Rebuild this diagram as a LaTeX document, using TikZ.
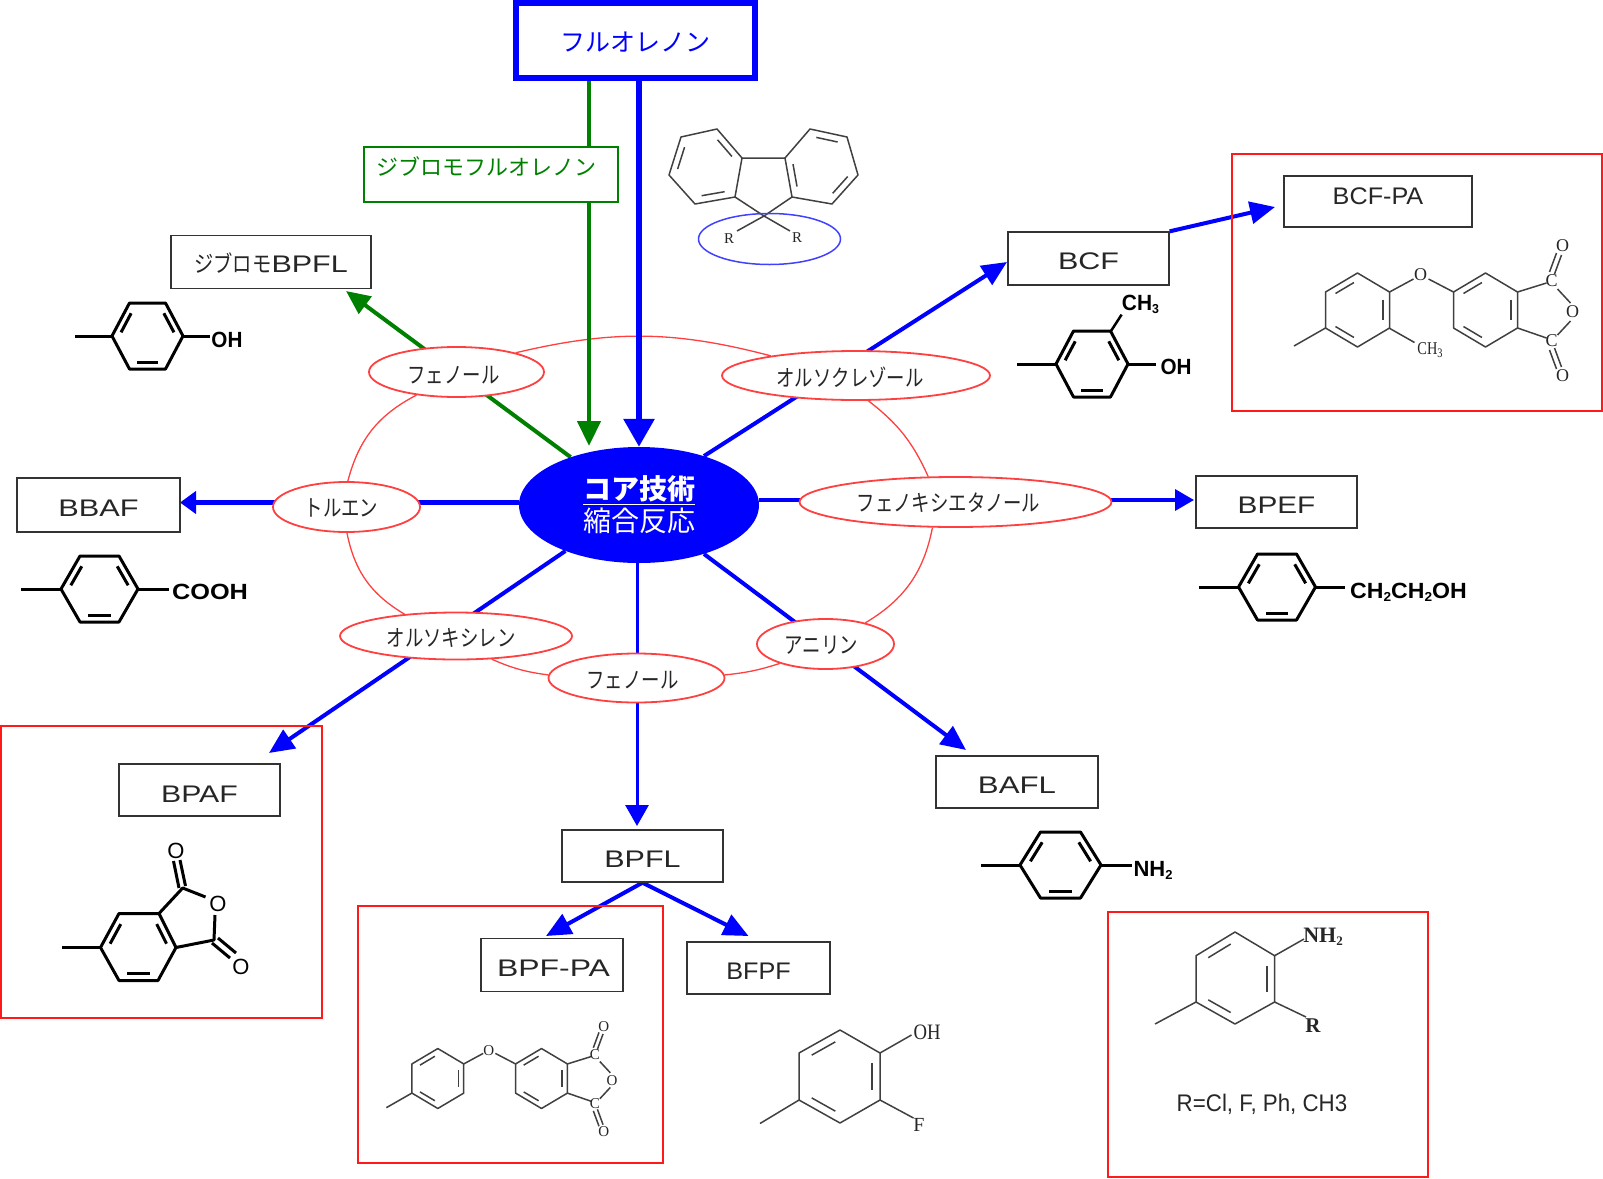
\documentclass[tikz,border=0pt]{standalone}
\usepackage{fontspec}
\setmainfont{Liberation Sans}
\newfontfamily\jpfont{Noto Sans CJK JP}
\newfontfamily\serfont{Liberation Serif}
\usetikzlibrary{shapes.geometric,arrows.meta,calc,backgrounds}

\newcommand{\kana}[1]{\scalebox{.8}[1]{\jpfont\fontsize{23}{23}\selectfont #1}}
\newcommand{\wlat}[2]{\scalebox{#1}[1]{\fontsize{24}{24}\selectfont #2}}
\newcommand{\chem}[2]{\scalebox{#1}[1]{\bfseries\fontsize{22}{22}\selectfont #2}}
\newcommand{\low}[1]{\raisebox{-3pt}{\fontsize{13}{13}\selectfont #1}}
\newcommand{\serf}[2]{{\serfont\fontsize{#1}{#1}\selectfont #2}}
\newcommand{\lift}[2]{\raisebox{#1pt}[0pt][0pt]{#2}}
\newcommand{\skana}[3]{\lift{#1}{\kana{#3}\kern #2pt}}

% ring with three inner double bonds on 1-2, 3-4, 5-6
\newcommand{\benzring}[7]{
\coordinate (p1) at #2;
\coordinate (p2) at #3;
\coordinate (p3) at #4;
\coordinate (p4) at #5;
\coordinate (p5) at #6;
\coordinate (p6) at #7;
\coordinate (pc) at ($(p1)!.5!(p4)$);
\draw[#1] (p1)--(p2)--(p3)--(p4)--(p5)--(p6)--cycle;
\draw[#1] ($(p1)!.14!(p2)!.2!(pc)$) -- ($(p2)!.14!(p1)!.2!(pc)$);
\draw[#1] ($(p3)!.14!(p4)!.2!(pc)$) -- ($(p4)!.14!(p3)!.2!(pc)$);
\draw[#1] ($(p5)!.14!(p6)!.2!(pc)$) -- ($(p6)!.14!(p5)!.2!(pc)$);
}

% para ring with tail and bond to the group on the right
\newcommand{\pararing}[6]{
\begin{scope}[shift={(#1,#2)}]
\benzring{thickbond}{(-#3,0)}{(-#4,-33)}{(#4,-33)}{(#3,0)}{(#4,33)}{(-#4,33)}
\draw[thickbond] (-#3,0) -- (-#5,0) (#3,0) -- (#6,0);
\end{scope}
}

% two rings joined by oxygen, anhydride on the right
\newcommand{\oxyphth}[4]{
\begin{scope}[shift={#1},scale=#2]
\benzring{thinbond}{(-160,-18)}{(-128,-37)}{(-96,-18)}{(-96,18)}{(-128,37)}{(-160,18)}
\benzring{thinbond}{(-32,-18)}{(0,-37)}{(32,-18)}{(32,18)}{(0,37)}{(-32,18)}
\draw[thinbond] (-160,18) -- (-191.5,36) (-96,-18) -- (-72,-31) (-57,-31) -- (-32,-18);
\draw[thinbond] (32,-18) -- (61,-27) (32,18) -- (61,28);
\draw[thinbond] (72,-21) -- (85,-7) (85,11) -- (72,25);
\draw[thinbond] (64,-38) -- (71,-57) (69,-36) -- (76,-55);
\draw[thinbond] (64,40) -- (71,59) (69,38) -- (76,57);
\node[moltext] (#4oa) at (-65,-35) {\serf{#3}{O}};
\node[moltext] (#4ca) at (66,-29) {\serf{#3}{C}};
\node[moltext] (#4ob) at (87,2) {\serf{#3}{O}};
\node[moltext] (#4cb) at (66,31) {\serf{#3}{C}};
\node[moltext] (#4oc) at (77,-64) {\serf{#3}{O}};
\node[moltext] (#4od) at (77,66) {\serf{#3}{O}};
\end{scope}
}

\begin{document}
\begin{tikzpicture}[x=1pt,y=-1pt,
  thickbond/.style={line width=3pt, line join=round, black},
  thinbond/.style={line width=1.5pt, line join=round, black!75},
  moltext/.style={inner sep=0pt, text=black!85},
  namebox/.style={draw=black!80, line width=1.3pt, fill=white, inner sep=0pt, text=black!85},
  redframe/.style={draw=red!90, line width=2pt, inner sep=0pt},
  solvent/.style={shape=ellipse, draw=red!75, line width=1.8pt, fill=white, inner sep=0pt, text=black!85},
  ring/.style={draw=red!75, line width=1.3pt},
  bluearrow/.style={draw=blue, line width=4pt, -{Triangle[length=25pt,width=22pt]}, blue},
  greenarrow/.style={draw=green!50!black, line width=4.5pt, -{Triangle[length=25pt,width=23pt]}, green!50!black}]
\useasboundingbox (0,0) rectangle (1603,1178);

% frames
\node[redframe, minimum width=370pt, minimum height=257pt] (framebcf) at (1417,282.5) {};
\node[redframe, minimum width=321pt, minimum height=292pt] (framebpaf) at (161.5,872) {};
\node[redframe, minimum width=305pt, minimum height=257pt] (framebpf) at (510.5,1034.5) {};
\node[redframe, minimum width=320pt, minimum height=265pt] (framer) at (1268,1044) {};

% names
\node[draw=blue, line width=6pt, fill=white, inner sep=0pt, minimum width=239pt, minimum height=75pt, text=blue] (fluoren) at (635.5,40.5)
  {\lift{-11}{\jpfont\fontsize{25}{25}\selectfont フルオレノン}};
\node[draw=green!50!black, line width=1.5pt, fill=white, inner sep=0pt, minimum width=254pt, minimum height=55pt, text=green!50!black] (dbfl) at (491,174.5)
  {\kern-10pt\lift{-1}{\jpfont\fontsize{22}{22}\selectfont ジブロモフルオレノン}};
\node[namebox, minimum width=200pt, minimum height=53pt] (dbbpfl) at (271,262) {\lift{-10.5}{\scalebox{1.05}[1]{\kana{ジブロモ}}\wlat{1.27}{BPFL}}};
\node[namebox, minimum width=161pt, minimum height=53pt] (bcf) at (1088.5,258.5) {\lift{-11}{\wlat{1.27}{BCF}}};
\node[namebox, minimum width=188pt, minimum height=51pt] (bcfpa) at (1378,201.5) {\lift{-3}{\wlat{1.05}{BCF-PA}}};
\node[namebox, minimum width=161pt, minimum height=52pt] (bpef) at (1276.5,502) {\lift{-11.5}{\wlat{1.24}{BPEF}}};
\node[namebox, minimum width=163pt, minimum height=54pt] (bbaf) at (98.5,505) {\lift{-11.5}{\wlat{1.28}{BBAF}}};
\node[namebox, minimum width=161pt, minimum height=52pt] (bpaf) at (199.5,790) {\lift{-12}{\wlat{1.26}{BPAF}}};
\node[namebox, minimum width=161pt, minimum height=52pt] (bpfl) at (642.5,856) {\lift{-11.5}{\wlat{1.27}{BPFL}}};
\node[namebox, minimum width=162pt, minimum height=52pt] (bafl) at (1017,782) {\lift{-11.5}{\wlat{1.3}{BAFL}}};
\node[namebox, minimum width=142pt, minimum height=53pt] (bpfpa) at (552,965) {\lift{-11.5}{\kern 3pt\wlat{1.33}{BPF-PA}}};
\node[namebox, minimum width=143pt, minimum height=52pt] (bfpf) at (758.5,968) {\lift{-11}{\wlat{1.05}{BFPF}}};

% core
\node[shape=ellipse, fill=blue, inner sep=0pt, minimum width=240pt, minimum height=116pt, text=white, align=center,
  font=\jpfont\fontsize{28}{32}\selectfont] (core) at (639,505) {\textbf{\underline{コア技術}}\\縮合反応};

% solvents
\node[solvent, minimum width=175pt, minimum height=50pt] (phenola) at (456.5,372) {\skana{-11.7}{6}{フェノール}};
\node[solvent, minimum width=147pt, minimum height=50pt] (toluene) at (346.5,507) {\skana{-9.7}{10}{トルエン}};
\node[solvent, minimum width=268pt, minimum height=49pt] (cresol) at (856,375.5) {\skana{-10.7}{12}{オルソクレゾール}};
\node[solvent, minimum width=312pt, minimum height=50pt] (phenoxy) at (955.5,502) {\skana{-9.7}{14}{フェノキシエタノール}};
\node[solvent, minimum width=232pt, minimum height=47pt] (xylene) at (456,636) {\skana{-10.7}{10}{オルソキシレン}};
\node[solvent, minimum width=176pt, minimum height=49pt] (phenolb) at (636.5,678) {\skana{-10.7}{8}{フェノール}};
\node[solvent, minimum width=137pt, minimum height=50pt] (aniline) at (825.5,644) {\skana{-9.7}{8}{アニリン}};

\coordinate (gtop) at (589,78);
\coordinate (gtip) at (589,446);
\coordinate (tipdb) at (346,291);
\coordinate (tipbcf) at (1007,262);
\coordinate (tipbcfpa) at (1275,207);
\coordinate (tipbpef) at (1194,500);
\coordinate (tipbbaf) at (180,502.5);
\coordinate (tipbpaf) at (269,753);
\coordinate (tipbpfl) at (637,826);
\coordinate (tipbafl) at (966,750);
\coordinate (tipbpfpa) at (546,936);
\coordinate (tipbfpf) at (748.5,936);

\begin{pgfonlayer}{background}
\draw[ring] (phenola.18.6) to[bend left=14] (cresol.167.7);
\draw[ring] (phenola.210) to[bend right=24] (toluene.87);
\draw[ring] (toluene.-89) to[bend right=24] (xylene.157);
\draw[ring] (xylene.-33.5) to[bend right=8] (phenolb.178);
\draw[ring] (phenolb.2) to[bend right=6] (aniline.203);
\draw[ring] (aniline.28) to[bend right=24] (phenoxy.228);
\draw[ring] (cresol.-64) to[bend left=14] (phenoxy.137);

\draw[greenarrow] (gtop) -- (gtip);
\draw[bluearrow, line width=6pt, -{Triangle[length=28pt,width=30pt]}] (fluoren.south -| core.north) -- (core.north);
\draw[greenarrow, line width=4pt, -{Triangle[length=24pt,width=21pt]}] (core.145.6) -- (tipdb);
\draw[bluearrow] (core.37) -- (tipbcf);
\draw[bluearrow] (bcf.north east) -- (tipbcfpa);
\draw[bluearrow, line width=3.5pt, -{Triangle[length=19pt,width=21pt]}] (tipbpef -| core.east) -- (tipbpef);
\draw[bluearrow, line width=5pt, -{Triangle[length=16pt,width=22pt]}] (tipbbaf -| core.west) -- (tipbbaf);
\draw[bluearrow] (core.212) -- (tipbpaf);
\draw[bluearrow, line width=3pt, -{Triangle[length=21pt,width=23pt]}] (tipbpfl |- core.south) -- (tipbpfl);
\draw[bluearrow] (core.-37) -- (tipbafl);
\draw[bluearrow] (bpfl.south) -- (tipbpfpa);
\draw[bluearrow] (bpfl.south) -- (tipbfpf);
\end{pgfonlayer}

% fluorene
\benzring{thinbond}{(669,175)}{(681,137)}{(717,129)}{(742,158)}{(735,197)}{(695,204)}
\benzring{thinbond}{(810,129)}{(847,137)}{(858,175)}{(832,204)}{(792,197)}{(785,158)}
\draw[thinbond] (742,158) -- (785,158) (735,197) -- (764,216) -- (792,197);
\draw[thinbond] (764,216) -- (737,231) (764,216) -- (790,231);
\node[draw=blue!75, line width=1.5pt, shape=ellipse, inner sep=0pt, minimum width=142pt, minimum height=51pt] (rgroup) at (769.5,239) {};
\node[moltext] (ra) at (729,239) {\serf{15}{R}};
\node[moltext] (rb) at (797,238) {\serf{15}{R}};

% phenol
\pararing{147.5}{336}{35.5}{18}{73}{62.5}
\node[inner sep=0pt] (oha) at (227,340) {\chem{.94}{OH}};

% benzoic acid
\pararing{99.5}{589}{38.5}{19.5}{79}{69.5}
\node[inner sep=0pt] (cooh) at (210,592) {\chem{1.15}{COOH}};

% cresol
\pararing{1092}{364}{36}{18.5}{75}{64}
\draw[thickbond, line width=2.5pt] (1111,331) -- (1121.6,314.6);
\node[inner sep=0pt] (ohb) at (1176,367) {\chem{.94}{OH}};
\node[inner sep=0pt] (cha) at (1140.5,304) {\scalebox{.95}[1]{\bfseries\fontsize{22}{22}\selectfont CH\low{3}}};

% ethanol
\pararing{1277}{587}{38.5}{19.5}{78}{68}
\node[inner sep=0pt] (etoh) at (1408.5,592) {\chem{1.05}{CH\low{2}CH\low{2}OH}};

% aniline
\pararing{1060.5}{865}{40.5}{20}{80}{71}
\node[inner sep=0pt] (nha) at (1153,870) {\chem{1}{NH\low{2}}};

% anhydride
\benzring{thickbond}{(100.5,947.5)}{(119,913.5)}{(159,913.5)}{(176,947.5)}{(158,980.5)}{(119,980.5)}
\draw[thickbond] (100.5,947.5) -- (62,947.5);
\draw[thickbond] (159,913.5) -- (182.7,888) -- (205.5,897);
\draw[thickbond] (215,915) -- (214,940) -- (176,947.5);
\draw[thickbond] (173.5,861) -- (179,888) (180,860) -- (185.5,886);
\draw[thickbond] (212,943) -- (230,958) (218,938) -- (236,953);
\node[inner sep=0pt] (oe) at (176,850.5) {\fontsize{22}{22}\selectfont O};
\node[inner sep=0pt] (of) at (218,904) {\fontsize{22}{22}\selectfont O};
\node[inner sep=0pt] (og) at (241,966.5) {\fontsize{22}{22}\selectfont O};

% bcf-pa
\oxyphth{(1485.5,310)}{1}{18}{bc}
\draw[thinbond] (1389,328) -- (1414.5,342.5);
\node[moltext] (chb) at (1430,350) {\scalebox{.8}[1]{\serf{18}{CH\low{3}}}};

% bpf-pa
\oxyphth{(541.5,1078.5)}{.81}{15}{bp}

% bfpf
\benzring{thinbond}{(799,1053)}{(840,1030)}{(880,1053)}{(880,1100)}{(840,1123)}{(799,1100)}
\draw[thinbond] (799,1100) -- (760,1123.5) (880,1053) -- (911.5,1035) (880,1100) -- (913.5,1118);
\node[moltext] (ohc) at (927,1032) {\scalebox{.85}[1]{\serf{22}{OH}}};
\node[moltext] (fa) at (919,1125) {\serf{20}{F}};

% substituted aniline
\benzring{thinbond}{(1196,955.7)}{(1235,932)}{(1274.6,955.7)}{(1274.6,1002)}{(1235,1024)}{(1196,1002)}
\draw[thinbond] (1196,1002) -- (1155,1024) (1274.6,955.7) -- (1304,939) (1274.6,1002) -- (1306,1017);
\node[moltext] (nhb) at (1323,937) {\bfseries\serf{22}{NH\low{2}}};
\node[moltext] (rc) at (1313,1026) {\bfseries\serf{21}{R}};
\node[inner sep=0pt, text=black!85] (rlist) at (1262,1104) {\scalebox{.93}[1]{\fontsize{24}{24}\selectfont R=Cl, F, Ph, CH3}};
\end{tikzpicture}
\end{document}
